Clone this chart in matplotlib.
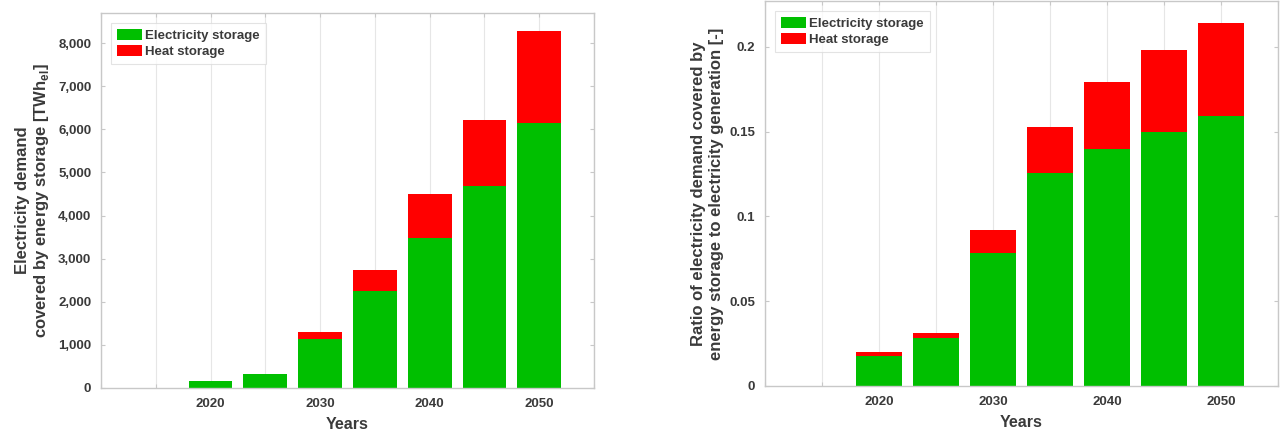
import numpy as np
import matplotlib
matplotlib.use('Agg')
import matplotlib.pyplot as plt
from matplotlib.ticker import FuncFormatter, MultipleLocator

plt.rcParams['font.family'] = ['Liberation Sans', 'DejaVu Sans']
plt.rcParams['font.weight'] = 'bold'
plt.rcParams['axes.labelweight'] = 'bold'
plt.rcParams['mathtext.fontset'] = 'custom'
plt.rcParams['mathtext.bf'] = 'Liberation Sans:bold'
plt.rcParams['mathtext.rm'] = 'Liberation Sans:bold'

# 数据
years = [2020, 2025, 2030, 2035, 2040, 2045, 2050]
demand_elec = [160, 315, 1140, 2240, 3490, 4690, 6140]
demand_heat = [8, 10, 170, 500, 1010, 1530, 2140]
ratio_elec = [0.0176, 0.0281, 0.0787, 0.1255, 0.1395, 0.150, 0.159]
ratio_heat = [0.0023, 0.0031, 0.0134, 0.0271, 0.040, 0.048, 0.0553]
series_names = ['Electricity storage', 'Heat storage']

green = '#00bf00'
red = '#ff0000'
txt = '#3a3a3a'
edge = '#c8c8c8'

fig = plt.figure(figsize=(12.81, 4.32), dpi=100)
ax1 = fig.add_axes([0.0788, 0.1019, 0.3849, 0.8681])
ax2 = fig.add_axes([0.5972, 0.1065, 0.4005, 0.8912])


def style(ax):
    ax.set_xlim(2010, 2055)
    ax.set_xticks(np.arange(2010, 2056, 5))
    ax.set_xticklabels(['', '', '2020', '', '2030', '', '2040', '', '2050', ''])
    ax.grid(axis='x', color='#e6e6e6', linewidth=0.8)
    ax.set_axisbelow(True)
    ax.tick_params(direction='in', top=True, right=True, length=3, color=edge,
                   labelsize=9.5, labelcolor=txt, pad=7)
    for s in ax.spines.values():
        s.set_color(edge)
        s.set_linewidth(1.0)
    ax.set_xlabel('Years', fontsize=11.5, color=txt, labelpad=5)


# 左图: 储能覆盖的电力需求
ax1.bar(years, demand_elec, width=4, color=green, label=series_names[0])
ax1.bar(years, demand_heat, width=4, bottom=demand_elec, color=red, label=series_names[1])
ax1.set_ylim(0, 8700)
ax1.yaxis.set_major_locator(MultipleLocator(1000))
ax1.yaxis.set_major_formatter(FuncFormatter(lambda v, p: f'{int(v):,}'))
style(ax1)
ax1.set_ylabel('Electricity demand\ncovered by energy storage [TWh$_{\\mathbf{el}}$]',
               fontsize=12, color=txt, labelpad=5, linespacing=1.15)

# 右图: 储能电量占发电量比例
ax2.bar(years, ratio_elec, width=4, color=green, label=series_names[0])
ax2.bar(years, ratio_heat, width=4, bottom=ratio_elec, color=red, label=series_names[1])
ax2.set_ylim(0, 0.227)
ax2.set_yticks([0, 0.05, 0.1, 0.15, 0.2])
ax2.set_yticklabels(['0', '0.05', '0.1', '0.15', '0.2'])
style(ax2)
ax2.set_ylabel('Ratio of electricity demand covered by\nenergy storage to electricity generation [-]',
               fontsize=12, color=txt, labelpad=4, linespacing=1.25)

for ax in (ax1, ax2):
    leg = ax.legend(loc='upper left', fontsize=9.5, frameon=True, fancybox=False,
                    handlelength=1.9, handleheight=0.9, handletextpad=0.25,
                    borderpad=0.45, labelspacing=0.25, borderaxespad=0.75)
    leg.get_frame().set_edgecolor('#dcdcdc')
    leg.get_frame().set_linewidth(0.8)
    for t in leg.get_texts():
        t.set_color(txt)
        t.set_fontweight('bold')

fig.savefig('out.png', dpi=100)
